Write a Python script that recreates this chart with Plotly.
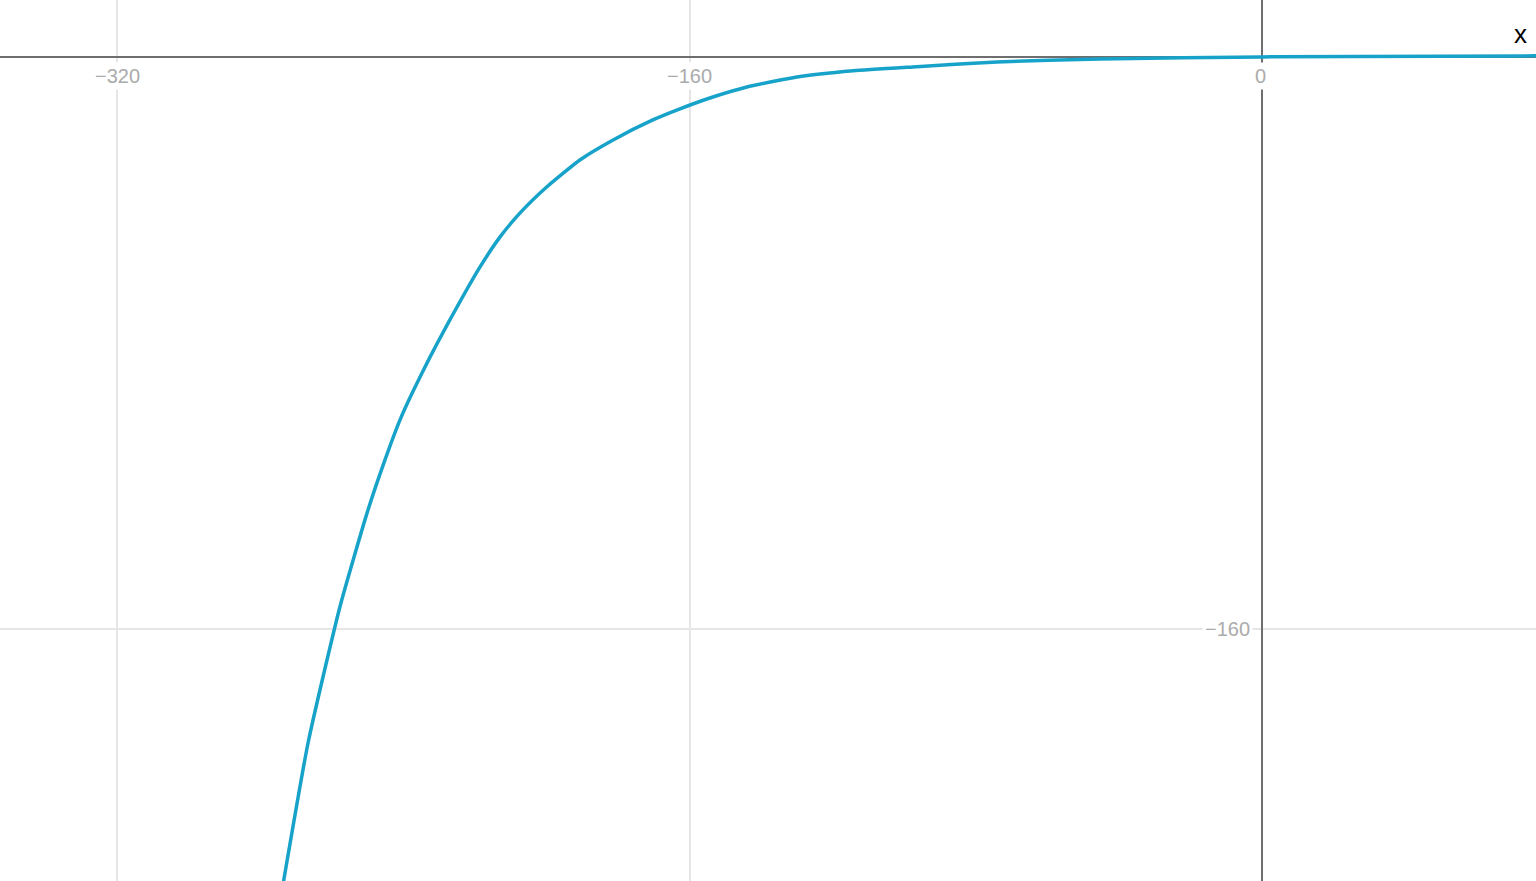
import plotly.graph_objects as go

# curve samples (graph units)
curve_x = [-276.8, -266.7, -257.8, -250.2, -245.2, -241.0, -237.3, -232.6, -227.8, -218.6,
           -213.0, -207.4, -199.9, -190.7, -181.4, -170.3, -162.7, -153.5, -144.0, -130.0,
           -114.3, -97.6, -74.1, -45.3, 0.0, 80.0]
curve_y = [-249.6, -191.8, -153.8, -127.5, -112.7, -101.5, -93.4, -83.9, -74.9, -58.7,
           -50.3, -43.6, -36.3, -28.8, -23.2, -17.6, -14.5, -11.2, -8.4, -5.6,
           -3.9, -2.8, -1.4, -0.6, 0.0, 0.3]

x_ticks = [-320, -160, 0]
y_ticks = [-160]
x_range = [-352.8, 76.6]
y_range = [-230.3, 15.9]

label_font = dict(family="Liberation Sans, Arial, sans-serif", size=20, color="#ababab")
grid_color = "#e6e6e6"
axis_color = "#6e6e6e"

fig = go.Figure()

fig.add_trace(go.Scatter(
    x=curve_x,
    y=curve_y,
    mode="lines",
    line=dict(color="#17a3c9", width=3.5, shape="spline", smoothing=0.5),
    hoverinfo="skip",
    showlegend=False
))

# desmos-style tick labels sitting on the axes
annotations = []
for t in x_ticks:
    annotations.append(dict(
        x=t, y=0, xref="x", yref="y",
        text=str(t).replace("-", "\u2212"),
        showarrow=False, font=label_font,
        xanchor="center", yanchor="middle", yshift=-19, xshift=-2 if t == 0 else 0,
        bgcolor="white", borderpad=2
    ))
for t in y_ticks:
    annotations.append(dict(
        x=0, y=t, xref="x", yref="y",
        text=str(t).replace("-", "\u2212"),
        showarrow=False, font=label_font,
        xanchor="right", yanchor="middle", xshift=-9,
        bgcolor="white", borderpad=2
    ))
annotations.append(dict(
    x=1, y=0, xref="paper", yref="y",
    text="x", showarrow=False,
    font=dict(family="Liberation Sans, Arial, sans-serif", size=26, color="black"),
    xanchor="right", yanchor="middle", xshift=-7, yshift=23
))

fig.update_layout(
    width=1536,
    height=881,
    margin=dict(l=0, r=0, t=0, b=0),
    plot_bgcolor="white",
    paper_bgcolor="white",
    showlegend=False,
    annotations=annotations,
    xaxis=dict(
        range=x_range, tickvals=x_ticks, showticklabels=False, ticks="",
        showgrid=True, gridcolor=grid_color, gridwidth=1.5,
        zeroline=True, zerolinecolor=axis_color, zerolinewidth=1.5,
        showline=False, fixedrange=True
    ),
    yaxis=dict(
        range=y_range, tickvals=y_ticks, showticklabels=False, ticks="",
        showgrid=True, gridcolor=grid_color, gridwidth=1.5,
        zeroline=True, zerolinecolor=axis_color, zerolinewidth=1.5,
        showline=False, fixedrange=True
    )
)

fig.write_html("out.html", config=dict(displayModeBar=False),
               post_script="document.body.style.margin='0';document.body.style.overflow='hidden';")
